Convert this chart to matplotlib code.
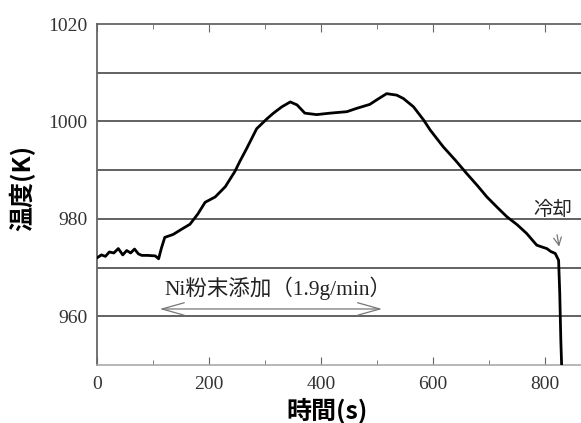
import matplotlib
matplotlib.use("Agg")
import matplotlib.pyplot as plt
from matplotlib.ticker import MultipleLocator

# time (s) and temperature (K)
time_s = [0, 8, 15, 22, 30, 38, 46, 53, 60, 67, 74, 80, 90, 104, 110, 115,
          121, 136, 150, 166, 180, 193, 211, 229, 246, 255, 267, 285, 303,
          315, 330, 345, 357, 371, 392, 416, 446, 464, 487, 499, 517, 535,
          547, 565, 583, 595, 618, 640, 660, 680, 696, 715, 732, 750, 767,
          785, 795, 803, 810, 818, 824, 826, 828, 830]
temp_k = [972.0, 972.6, 972.3, 973.2, 973.0, 973.9, 972.6, 973.5, 973.0,
          973.8, 972.8, 972.5, 972.5, 972.4, 971.8, 974.0, 976.2, 976.8,
          977.8, 978.9, 981.0, 983.4, 984.5, 986.6, 989.7, 991.8, 994.4,
          998.5, 1000.5, 1001.7, 1003.0, 1004.0, 1003.4, 1001.7, 1001.4,
          1001.7, 1002.0, 1002.7, 1003.5, 1004.4, 1005.7, 1005.4, 1004.7,
          1003.0, 1000.3, 998.2, 994.8, 992.0, 989.3, 986.7, 984.5, 982.3,
          980.4, 978.8, 977.0, 974.6, 974.2, 973.9, 973.3, 972.9, 971.5,
          965.0, 955.0, 948.0]

y_labels = [960, 980, 1000, 1020]
y_grid = [960, 970, 980, 990, 1000, 1010]
x_labels = [0, 200, 400, 600, 800]

feed_start, feed_end, feed_level = 112, 509, 961.5
feed_text = "Ni粉末添加（1.9g/min）"
cool_time, cool_text = 825, "冷却"

serif = ["Liberation Serif", "Noto Sans CJK JP"]
cjk = ["Noto Sans CJK JP", "DejaVu Sans"]

fig = plt.figure(figsize=(5.81, 4.23), dpi=100)
ax = fig.add_axes([97 / 581, 58 / 423, 484 / 581, 341 / 423])

for g in y_grid:
    ax.axhline(g, color="#555555", lw=1.3, zorder=1)

ax.plot(time_s, temp_k, color="black", lw=2.0, zorder=3)

ax.set_xlim(0, 864)
ax.set_ylim(950, 1020)

ax.set_yticks(y_labels)
ax.set_yticklabels([str(v) for v in y_labels], family=serif, fontsize=14, color="#333333")
ax.set_xticks(x_labels)
ax.set_xticklabels([str(v) for v in x_labels], family=serif, fontsize=14, color="#333333")
ax.xaxis.set_minor_locator(MultipleLocator(100))
ax.tick_params(axis="y", length=0, pad=7)
ax.tick_params(axis="x", which="major", direction="in", length=6, top=True,
               color="#666666", pad=8)
ax.tick_params(axis="x", which="minor", direction="in", length=3.5, top=True,
               color="#666666")

for side in ["left", "top"]:
    ax.spines[side].set_color("#666666")
    ax.spines[side].set_linewidth(1.3)
ax.spines["bottom"].set_color("#aaaaaa")
ax.spines["bottom"].set_linewidth(1.2)
ax.spines["right"].set_visible(False)

ax.set_ylabel("温度(K)", family=cjk, fontsize=18, fontweight="bold")
ax.set_xlabel("時間(s)", family=cjk, fontsize=18, fontweight="bold")
ax.yaxis.set_label_coords(-62 / 484, 0.52)
ax.xaxis.set_label_coords(0.475, -33 / 341)

# feed period arrow
ax.annotate("", xy=(feed_start, feed_level), xytext=(feed_end, feed_level),
            arrowprops=dict(arrowstyle="<->,head_length=1.6,head_width=0.45",
                            color="#777777", lw=0.9, mutation_scale=10,
                            shrinkA=0, shrinkB=0), zorder=4)
ax.text(323, 965.8, feed_text, family=serif,
        fontsize=15.5, color="#222222", ha="center", va="center")

# cooling start marker
ax.annotate(cool_text, xy=(cool_time, 974.3), xytext=(cool_time - 12, 982.0),
            family=cjk, fontsize=14, color="#222222", ha="center", va="center",
            arrowprops=dict(arrowstyle="->", color="#777777", lw=0.9,
                            shrinkA=9, shrinkB=0))

fig.savefig("out.png", dpi=100)
